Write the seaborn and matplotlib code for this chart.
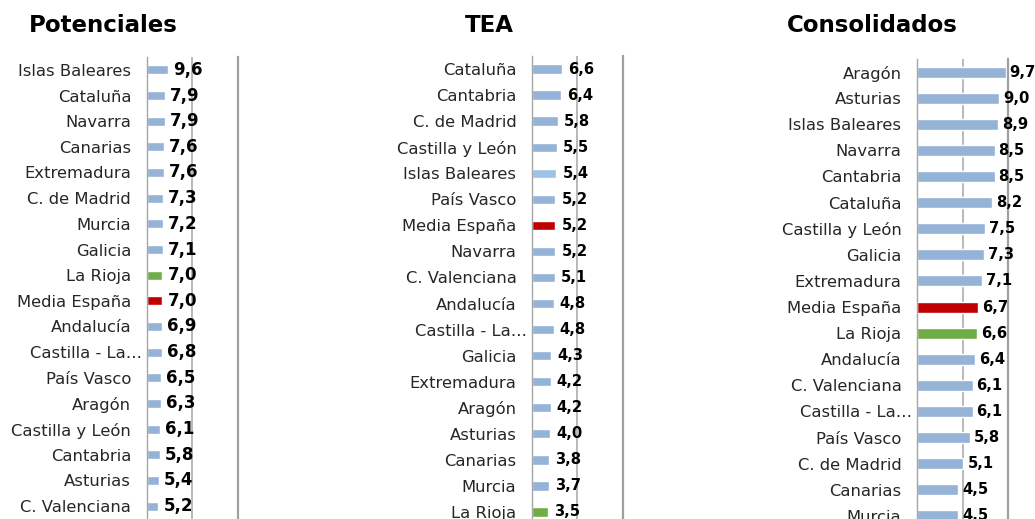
import numpy as np
import pandas as pd
import matplotlib
matplotlib.use("Agg")
import matplotlib.pyplot as plt
import matplotlib.transforms as mtransforms
import seaborn as sns

sns.set_style("white")
plt.rcParams['font.family'] = ['DejaVu Sans']

# datos de cada panel
pot_regions = ["Islas Baleares", "Cataluña", "Navarra", "Canarias", "Extremadura", "C. de Madrid",
               "Murcia", "Galicia", "La Rioja", "Media España", "Andalucía", "Castilla - La…",
               "País Vasco", "Aragón", "Castilla y León", "Cantabria", "Asturias", "C. Valenciana"]
pot_values = [9.6, 7.9, 7.9, 7.6, 7.6, 7.3, 7.2, 7.1, 7.0, 7.0, 6.9, 6.8, 6.5, 6.3, 6.1, 5.8, 5.4, 5.2]

tea_regions = ["Cataluña", "Cantabria", "C. de Madrid", "Castilla y León", "Islas Baleares", "País Vasco",
               "Media España", "Navarra", "C. Valenciana", "Andalucía", "Castilla - La…", "Galicia",
               "Extremadura", "Aragón", "Asturias", "Canarias", "Murcia", "La Rioja"]
tea_values = [6.6, 6.4, 5.8, 5.5, 5.4, 5.2, 5.2, 5.2, 5.1, 4.8, 4.8, 4.3, 4.2, 4.2, 4.0, 3.8, 3.7, 3.5]

con_regions = ["Aragón", "Asturias", "Islas Baleares", "Navarra", "Cantabria", "Cataluña",
               "Castilla y León", "Galicia", "Extremadura", "Media España", "La Rioja", "Andalucía",
               "C. Valenciana", "Castilla - La…", "País Vasco", "C. de Madrid", "Canarias", "Murcia"]
con_values = [9.7, 9.0, 8.9, 8.5, 8.5, 8.2, 7.5, 7.3, 7.1, 6.7, 6.6, 6.4, 6.1, 6.1, 5.8, 5.1, 4.5, 4.5]

titles = ["Potenciales", "TEA", "Consolidados"]
x_max = [40, 20, 10]

BLUE = "#95B3D7"
RED = "#C00000"
GREEN = "#70AD47"
GRID = "#A6A6A6"

W, H = 1035, 519
fig = plt.figure(figsize=(W / 100, H / 100), dpi=100)

# posiciones en pixeles: (izq, arriba, abajo, ancho)
boxes = [(146.5, 57, 519, 91.2), (531.7, 56, 525, 91.2), (916.7, 59, 529, 91.6)]
title_x = [103.5, 489, 872]
bar_h = [0.36, 0.36, 0.42]
val_size = [12, 10.6, 10.6]
val_gap = [5, 6, 4]

panels = [(pot_regions, pot_values), (tea_regions, tea_values), (con_regions, con_values)]

for i, (regions, values) in enumerate(panels):
    left, top, bottom, width = boxes[i]
    ax = fig.add_axes([left / W, 1 - bottom / H, width / W, (bottom - top) / H])
    df = pd.DataFrame({"region": regions, "valor": values})
    colors = {}
    for r in regions:
        if r == "Media España":
            colors[r] = RED
        elif r == "La Rioja":
            colors[r] = GREEN
        elif r == "Islas Baleares" and i == 1:
            colors[r] = "#9DC3E6"
        else:
            colors[r] = BLUE
    sns.barplot(data=df, x="valor", y="region", hue="region", palette=colors,
                order=regions, width=bar_h[i], legend=False, ax=ax, saturation=1)
    ax.set_xlim(0, x_max[i])
    ax.set_ylim(len(regions) - 0.5, -0.5)
    ax.set_xlabel("")
    ax.set_ylabel("")
    ax.set_xticks([x_max[i] / 2])
    ax.xaxis.grid(True, color=GRID, lw=1.1)
    ax.tick_params(axis="x", length=0, labelbottom=False)
    ax.tick_params(axis="y", which="major", length=0, pad=11, labelsize=11.8, labelcolor="#262626")
    ax.set_yticks(np.arange(-0.5, len(regions) + 0.5, 1), minor=True)
    ax.tick_params(axis="y", which="minor", length=4, width=1, color="#8C8C8C", direction="out")
    for s in ["top", "bottom"]:
        ax.spines[s].set_visible(False)
    ax.spines["left"].set_color("#A6A6A6")
    ax.spines["left"].set_linewidth(1)
    ax.spines["right"].set_color("#A0A0A0")
    ax.spines["right"].set_linewidth(1.6)

    # la etiqueta truncada queda mas cerca del eje
    for t in ax.get_yticklabels():
        if t.get_text().startswith("Castilla - La"):
            t.set_transform(t.get_transform() + mtransforms.ScaledTranslation(7.5 / 72, 0, fig.dpi_scale_trans))

    for p, v in zip(ax.patches, values):
        ax.annotate(f"{v:.1f}".replace(".", ","), (p.get_width(), p.get_y() + p.get_height() / 2),
                    xytext=(val_gap[i], 0), textcoords="offset pixels", ha="left", va="center",
                    fontsize=val_size[i], fontweight="bold", color="black", clip_on=False)

    fig.text(title_x[i] / W, 1 - 25 / H, titles[i], ha="center", va="center",
             fontsize=16.5, fontweight="bold", color="black")

fig.savefig("out.png", dpi=100)
